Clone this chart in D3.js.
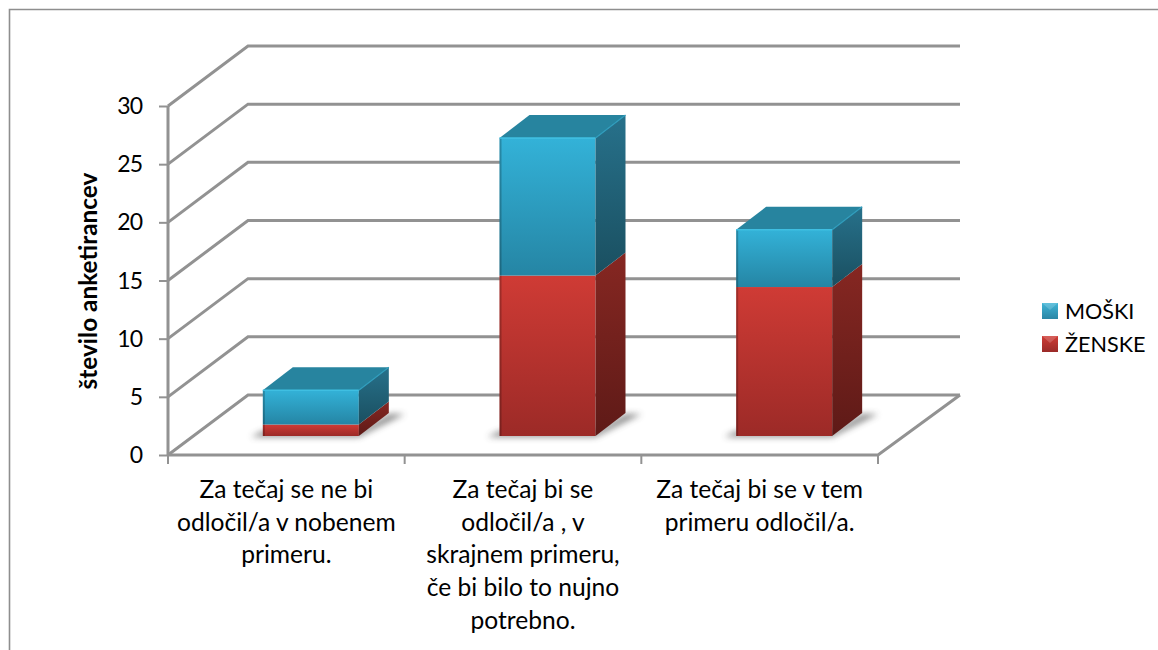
<!DOCTYPE html>
<html><head><meta charset="utf-8">
<script src="https://cdn.jsdelivr.net/npm/d3@7"></script>
<style>html,body{margin:0;background:#fff}svg{display:block}text{font-family:Lato,"Noto Sans",sans-serif;fill:#000}</style>
</head><body><svg id="c" width="1158" height="650"></svg>
<script>
const categories=[["Za tečaj se ne bi","odločil/a v nobenem","primeru."],["Za tečaj bi se","odločil/a , v","skrajnem primeru,","če bi bilo to nujno","potrebno."],["Za tečaj bi se v tem","primeru odločil/a."]];
const zenske=[1,14,13];
const moski=[3,12,5];
const yTicks=[0,5,10,15,20,25,30];
const yTitle="število anketirancev";
const legendNames=["MOŠKI","ŽENSKE"];

const svg=d3.select("#c");
const y=d3.scaleLinear().domain([0,30]).range([455,106]);
const x=d3.scaleBand().domain(d3.range(categories.length)).range([168,878]);
const BX=80,BY=-60;
const gridC="#929292";
const defs=svg.append("defs");
function grad(id,c1,c2){const g=defs.append("linearGradient").attr("id",id).attr("x1",0).attr("y1",0).attr("x2",0).attr("y2",1);
 g.append("stop").attr("offset",0).attr("stop-color",c1);g.append("stop").attr("offset",1).attr("stop-color",c2);}
grad("blueF","#33b2d8","#2585a4");grad("blueS","#27718b","#1a4f60");
grad("redF","#cf3b35","#9c2a27");grad("redS","#862722","#5e1a17");
grad("legB","#3fb4d6","#2b86a5");grad("legR","#cf3b35","#9a2a28");
const blur=defs.append("filter").attr("id","sh").attr("x","-30%").attr("y","-100%").attr("width","160%").attr("height","300%");
blur.append("feGaussianBlur").attr("stdDeviation",3);

svg.append("path").attr("d","M9.5 650V9.5H1158").attr("fill","none").attr("stroke","#8e8e8e").attr("stroke-width",1.6);

const grid=svg.append("g").attr("fill","none").attr("stroke",gridC).attr("stroke-width",3);
yTicks.forEach(t=>{
 grid.append("path").attr("d",`M${x.range()[0]} ${y(t)}L${x.range()[0]+BX} ${y(t)+BY}H${x.range()[1]+BX+2}`);
});
grid.append("path").attr("d",`M${x.range()[0]} ${y(0)}H${x.range()[1]}L${x.range()[1]+BX+2} ${y(0)+BY}`);
const ax=svg.append("g").attr("fill","none").attr("stroke",gridC);
ax.append("path").attr("d",`M${x.range()[0]} ${y(0)}V${y(30)}`).attr("stroke-width",3);
yTicks.forEach(t=>ax.append("path").attr("d",`M${x.range()[0]-9} ${y(t)+.5}H${x.range()[0]}`).attr("stroke-width",2));
d3.range(categories.length+1).forEach(i=>{
 const xx=i<categories.length?x(i):x.range()[1];
 ax.append("path").attr("d",`M${xx} ${y(0)}V${y(0)+9}`).attr("stroke-width",2);
});

const barW=96,DX=30,DY=-23,floorLift=19,shift=24.5,depthScale=.985;
const bars=svg.append("g");
categories.forEach((c,i)=>{
 const x0=x(i)+x.bandwidth()/2+shift-barW/2,x1=x0+barW;
 const base=y(0)-floorLift;
 const toY=v=>base-(y(0)-y(v))*depthScale;
 bars.append("path").attr("d",`M${x0-12} ${base+1}H${x1}L${x1+DX+16} ${base+DY+1}H${x1+DX}L${x1} ${base-5}H${x0}Z`).attr("fill","#444").attr("opacity",.6).attr("filter","url(#sh)");
 const seg=[[0,zenske[i],"red"],[zenske[i],zenske[i]+moski[i],"blue"]];
 seg.forEach(([a,b,col])=>{
  const ya=toY(a),yb=toY(b);
  bars.append("rect").attr("x",x0).attr("y",yb).attr("width",barW).attr("height",ya-yb).attr("fill",`url(#${col}F)`);
  bars.append("rect").attr("x",x0).attr("y",yb).attr("width",2).attr("height",ya-yb).attr("fill","#000").attr("opacity",.22);
  bars.append("path").attr("d",`M${x1} ${ya}L${x1+DX} ${ya+DY}V${yb+DY}L${x1} ${yb}Z`).attr("fill",`url(#${col}S)`);
 });
 const top=toY(zenske[i]+moski[i]);
 bars.append("path").attr("d",`M${x0} ${top}L${x0+DX} ${top+DY}H${x1+DX}L${x1} ${top}Z`).attr("fill","#27849f");
 bars.append("path").attr("d",`M${x0} ${top}H${x1}`).attr("stroke","#3fbfe2").attr("stroke-width",1.5);
 bars.append("path").attr("d",`M${x1} ${top}L${x1+DX} ${top+DY}`).attr("stroke","#2f9cbc").attr("stroke-width",1.2);
});

svg.append("g").selectAll("text").data(yTicks).join("text").attr("x",142).attr("y",d=>y(d)+8).attr("text-anchor","end").attr("font-size",23).attr("letter-spacing",-1).text(d=>d);
categories.forEach((lines,i)=>{
 const cx=x(i)+x.bandwidth()/2;
 svg.append("text").attr("text-anchor","middle").attr("font-size",24.6).selectAll("tspan").data(lines).join("tspan").attr("x",cx).attr("y",(d,j)=>498+j*32.7).text(d=>d);
});
svg.append("text").attr("transform","translate(97,281) rotate(-90)").attr("text-anchor","middle").attr("font-size",24.4).attr("font-weight",700).text(yTitle);

legendNames.forEach((n,i)=>{
 const ly=311+i*33;
 svg.append("rect").attr("x",1042).attr("y",ly-8).attr("width",16).attr("height",16).attr("fill",i==0?"url(#legB)":"url(#legR)");
 svg.append("path").attr("d",`M${1042} ${ly-8}H${1058}L${1050} ${ly-1}Z`).attr("fill","#fff").attr("opacity",.18);
 svg.append("text").attr("x",1065).attr("y",ly+8).attr("font-size",21.6).text(n);
});
</script></body></html>
